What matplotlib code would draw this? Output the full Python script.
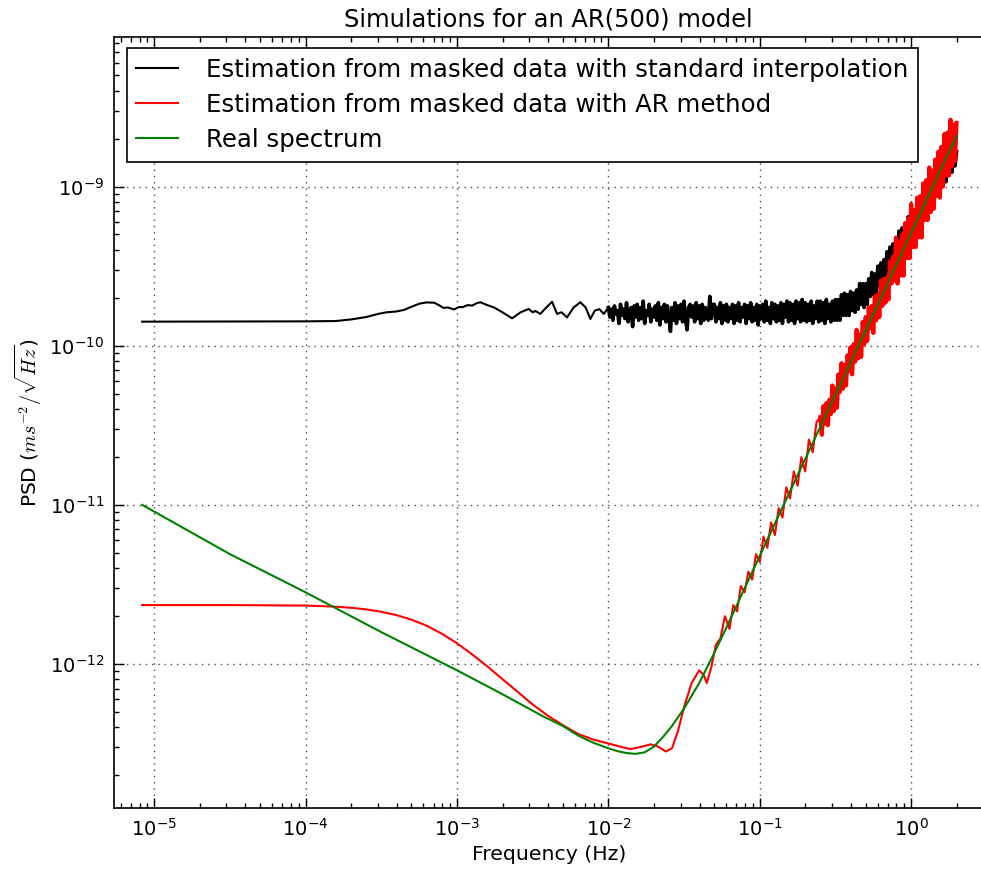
import numpy as np
import matplotlib
matplotlib.use('Agg')
from matplotlib import pyplot as plt

# Values, stored as log10(frequency [Hz]) and log10(PSD)

# black: estimation with standard interpolation, smooth low-frequency part
black_lf = [-5.08, -4.50, -4.00, -3.80, -3.70, -3.60, -3.52, -3.465, -3.40, -3.35,
            -3.30, -3.245, -3.20, -3.15, -3.12, -3.09, -3.06, -3.02, -2.99, -2.96,
            -2.93, -2.90, -2.87, -2.845, -2.80, -2.757, -2.70, -2.636, -2.58, -2.526,
            -2.50, -2.482, -2.45, -2.41, -2.372, -2.339, -2.31, -2.273, -2.23, -2.185,
            -2.15, -2.119, -2.09, -2.06, -2.03]
black_lp = [-9.849, -9.848, -9.847, -9.845, -9.835, -9.820, -9.800, -9.790, -9.785, -9.775,
            -9.755, -9.735, -9.728, -9.730, -9.745, -9.762, -9.760, -9.772, -9.758, -9.757,
            -9.745, -9.748, -9.733, -9.727, -9.745, -9.759, -9.790, -9.828, -9.790, -9.769,
            -9.790, -9.782, -9.800, -9.760, -9.724, -9.800, -9.790, -9.822, -9.760, -9.727,
            -9.760, -9.832, -9.780, -9.770, -9.800]

# black, noisy part, one reading every 0.01 decade from 10^-2 to 10^0.3 Hz
black_noise_lf = np.linspace(-2.0, 0.3, 231)
black_noise_lp = [
    -9.76, -9.82, -9.77, -9.84, -9.75, -9.80, -9.78, -9.86, -9.74, -9.81,
    -9.77, -9.83, -9.73, -9.85, -9.79, -9.76, -9.88, -9.75, -9.82, -9.74,
    -9.84, -9.76, -9.83, -9.72, -9.86, -9.78, -9.81, -9.74, -9.85, -9.77,
    -9.82, -9.75, -9.84, -9.73, -9.87, -9.76, -9.83, -9.74, -9.85, -9.75,
    -9.82, -9.91, -9.76, -9.84, -9.73, -9.86, -9.75, -9.83, -9.74, -9.85,
    -9.72, -9.84, -9.90, -9.76, -9.74, -9.82, -9.75, -9.85, -9.73, -9.83,
    -9.75, -9.86, -9.74, -9.84, -9.76, -9.82, -9.84, -9.69, -9.83, -9.74,
    -9.74, -9.85, -9.76, -9.83, -9.73, -9.86, -9.75, -9.84, -9.74, -9.85,
    -9.76, -9.83, -9.74, -9.86, -9.75, -9.84, -9.73, -9.85, -9.76, -9.82,
    -9.74, -9.86, -9.75, -9.83, -9.73, -9.85, -9.76, -9.84, -9.74, -9.87,
    -9.75, -9.83, -9.74, -9.85, -9.72, -9.84, -9.76, -9.86, -9.73, -9.83,
    -9.74, -9.85, -9.75, -9.84, -9.73, -9.86, -9.74, -9.82, -9.72, -9.85,
    -9.73, -9.84, -9.74, -9.86, -9.72, -9.83, -9.73, -9.85, -9.71, -9.84,
    -9.73, -9.85, -9.74, -9.84, -9.72, -9.86, -9.75, -9.83, -9.72, -9.85,
    -9.72, -9.84, -9.73, -9.86, -9.71, -9.83, -9.74, -9.85, -9.72, -9.84,
    -9.71, -9.84, -9.71, -9.84, -9.68, -9.81, -9.67, -9.81, -9.68, -9.81,
    -9.66, -9.78, -9.67, -9.79, -9.65, -9.77, -9.61, -9.74, -9.61, -9.76,
    -9.61, -9.74, -9.58, -9.69, -9.54, -9.68, -9.55, -9.67, -9.50, -9.62,
    -9.48, -9.60, -9.46, -9.58, -9.41, -9.53, -9.38, -9.52, -9.36, -9.48,
    -9.33, -9.45, -9.28, -9.41, -9.26, -9.40, -9.24, -9.36, -9.19, -9.32,
    -9.17, -9.28, -9.15, -9.27, -9.11, -9.23, -9.09, -9.21, -9.04, -9.16,
    -9.02, -9.14, -8.98, -9.10, -8.94, -9.08, -8.95, -9.06, -8.91, -9.02,
    -8.88, -8.99, -8.84, -8.97, -8.83, -8.93, -8.80, -8.91, -8.78, -8.87,
    -8.78]

# red: estimation with the AR method, smooth part
red_lf = [-5.08, -4.50, -4.00, -3.80, -3.70, -3.60, -3.50, -3.40, -3.30, -3.20,
          -3.10, -3.00, -2.90, -2.80, -2.70, -2.60, -2.50, -2.40, -2.30, -2.20,
          -2.10, -2.00, -1.90, -1.855, -1.78, -1.72, -1.67, -1.62, -1.58, -1.54,
          -1.50, -1.45, -1.40, -1.37, -1.35, -1.32, -1.29, -1.26, -1.23]
red_lp = [-11.630, -11.630, -11.633, -11.640, -11.647, -11.657, -11.672, -11.693, -11.722, -11.760,
          -11.810, -11.870, -11.940, -12.015, -12.095, -12.175, -12.255, -12.325, -12.385, -12.440,
          -12.475, -12.500, -12.525, -12.535, -12.520, -12.505, -12.520, -12.550, -12.530, -12.420,
          -12.270, -12.120, -12.040, -12.070, -12.120, -12.020, -11.880, -11.840, -11.700]

# red, saw-teeth (every 0.025 decade) then dense noise (every 0.01 decade)
red_teeth_lf = np.linspace(-1.20, -0.625, 24)
red_teeth_lp = [-11.78, -11.63, -11.67, -11.51, -11.55, -11.42, -11.47, -11.31,
                -11.36, -11.20, -11.27, -11.11, -11.19, -11.02, -11.08, -10.89,
                -10.96, -10.79, -10.88, -10.70, -10.79, -10.59, -10.67, -10.48]
red_noise_lf = np.linspace(-0.60, 0.30, 91)
red_noise_lp = [
    -10.45, -10.56, -10.38, -10.49, -10.36, -10.50, -10.34, -10.43, -10.25, -10.41,
    -10.27, -10.39, -10.18, -10.29, -10.11, -10.27, -10.12, -10.25, -10.06, -10.16,
    -10.01, -10.18, -9.99, -10.10, -9.90, -10.08, -9.93, -10.07, -9.85, -9.99,
    -9.82, -9.97, -9.76, -9.89, -9.75, -9.92, -9.69, -9.84, -9.68, -9.82,
    -9.59, -9.75, -9.58, -9.73, -9.57, -9.71, -9.47, -9.61, -9.44, -9.59,
    -9.32, -9.61, -9.35, -9.56, -9.30, -9.56, -9.23, -9.45, -9.20, -9.45,
    -9.11, -9.38, -9.15, -9.38, -9.07, -9.32, -9.06, -9.32, -8.98, -9.21,
    -8.96, -9.21, -8.88, -9.16, -8.90, -9.14, -8.83, -9.06, -8.78, -9.07,
    -8.75, -9.00, -8.67, -8.93, -8.66, -8.93, -8.58, -8.87, -8.61, -8.84,
    -8.60]

# green: real spectrum
green_lf = [-5.08, -4.50, -4.00, -3.50, -3.00, -2.70, -2.43, -2.30, -2.20, -2.10,
            -2.00, -1.94, -1.88, -1.82, -1.76, -1.70, -1.64, -1.58, -1.50, -1.40,
            -1.30, -1.20, -1.00, -0.60, -0.20, 0.00, 0.30]
green_lp = [-11.00, -11.31, -11.55, -11.80, -12.04, -12.19, -12.33, -12.39, -12.45, -12.495,
            -12.53, -12.548, -12.56, -12.565, -12.555, -12.52, -12.46, -12.39, -12.28, -12.12,
            -11.93, -11.73, -11.32, -10.51, -9.70, -9.29, -8.68]

labels = ['Estimation from masked data with standard interpolation',
          'Estimation from masked data with AR method',
          'Real spectrum']
x_decades = [1e-5, 1e-4, 1e-3, 1e-2, 1e-1, 1e0]
y_decades = [1e-12, 1e-11, 1e-10, 1e-9]

plt.rcParams['font.family'] = ['DejaVu Sans']
plt.rcParams['mathtext.fontset'] = 'cm'
plt.rcParams['mathtext.default'] = 'it'

fig = plt.figure(figsize=(9.81, 8.75), dpi=100)
ax = fig.add_axes([0.1162, 0.0766, 0.8862, 0.8815])

bx = np.concatenate([black_lf, black_noise_lf])
by = np.concatenate([black_lp, black_noise_lp])
rx = np.concatenate([red_lf, red_teeth_lf, red_noise_lf])
ry = np.concatenate([red_lp, red_teeth_lp, red_noise_lp])

ax.loglog(10 ** bx, 10 ** by, color='k', lw=1.5, label=labels[0])
# the noisy stretches are drawn heavier so they read as solid bands
ax.loglog(10 ** black_noise_lf, 10 ** np.array(black_noise_lp), color='k', lw=2.6)
ax.loglog(10 ** rx, 10 ** ry, color='r', lw=1.5, label=labels[1])
ax.loglog(10 ** red_noise_lf, 10 ** np.array(red_noise_lp), color='r', lw=3.0)
ax.loglog(10 ** np.array(green_lf), 10 ** np.array(green_lp), color='g', lw=1.5, label=labels[2])

ax.set_xticks(x_decades)
ax.set_yticks(y_decades)
ax.set_xlim(10 ** -5.266, 3.0)
ax.set_ylim(10 ** -12.905, 10 ** -8.058)

ax.grid(True, which='major', color='0.3', linestyle=(0, (1, 3.5)), lw=1.0)
ax.tick_params(which='both', direction='in', top=True, right=False, labelsize=14, pad=7)
ax.tick_params(which='major', length=7, width=1)
ax.tick_params(which='minor', length=3.5, width=1)
for s in ax.spines.values():
    s.set_linewidth(1.2)

ax.set_title('Simulations for an AR(500) model', fontsize=17.4, pad=7)
ax.set_xlabel('Frequency (Hz)', fontsize=14.7)
ax.set_ylabel(r'PSD ($ms^{-2}/\sqrt{Hz}$)', fontsize=14.5)

leg = ax.legend(loc='upper left', bbox_to_anchor=(0.0146, 0.985), borderaxespad=0,
                fontsize=17.6, fancybox=False, framealpha=1, edgecolor='k',
                handlelength=1.7, handletextpad=1.15, borderpad=0.4, labelspacing=0.45)
leg.get_frame().set_linewidth(1.2)

fig.savefig('out.png', dpi=100, facecolor='white')
